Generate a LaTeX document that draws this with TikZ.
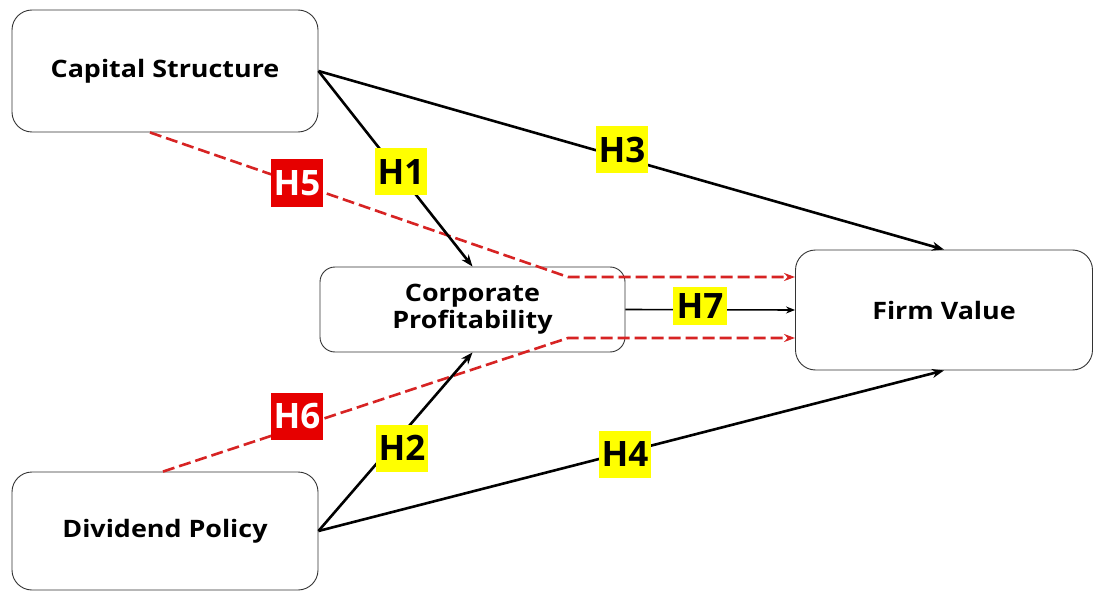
\documentclass[tikz,border=0pt]{standalone}
\usepackage{fontspec}
\setmainfont{Open Sans}
\newfontfamily\wideopen[FakeStretch=1.12]{Open Sans}
\usetikzlibrary{arrows.meta}
\definecolor{hyel}{RGB}{255,255,0}
\definecolor{hred}{RGB}{230,0,0}
\definecolor{dred}{RGB}{215,35,35}
\begin{document}
\begin{tikzpicture}[x=1pt,y=-1pt,
  box/.style={draw=black!80,line width=0.9pt,rounded corners=20pt,fill=white,align=center,
    font=\wideopen\fontsize{24}{27}\selectfont\bfseries,inner sep=0pt},
  blk/.style={line width=2.6pt,-{Stealth[length=12pt,width=9pt]}},
  thn/.style={line width=1.6pt,-{Stealth[length=9pt,width=7pt]}},
  rd/.style={dred,line width=2.6pt,dash pattern=on 12pt off 5pt,-{Stealth[length=11pt,width=8pt]}},
  hy/.style={fill=hyel,font=\fontsize{35}{35}\selectfont\bfseries,inner sep=0pt,
    minimum width=52pt,minimum height=47pt,text=black},
  hr/.style={fill=hred,font=\fontsize{35}{35}\selectfont\bfseries,inner sep=0pt,
    minimum width=52pt,minimum height=47pt,text=white}]
\useasboundingbox (0,0) rectangle (1093,591);
\fill[white] (0,0) rectangle (1093,591);
\node[box,minimum width=306pt,minimum height=122pt] (cap) at (165,71) {Capital Structure};
\node[box,minimum width=306pt,minimum height=118pt] (div) at (165,531) {Dividend Policy};
\node[box,minimum width=305pt,minimum height=85pt,rounded corners=15pt] (prof) at (472.5,309.5) {Corporate\\Profitability};
\node[box,minimum width=297pt,minimum height=120pt] (firm) at (944,310) {Firm Value};
\coordinate (b5) at (568,277);
\coordinate (b6) at (568,338);
\draw[rd] ([xshift=-15pt]cap.south) -- (b5) -- (b5 -| firm.west);
\draw[rd] ([xshift=-2pt]div.north) -- (b6) -- (b6 -| firm.west);
\draw[blk] (cap.east) -- (prof.north);
\draw[blk] (cap.east) -- (firm.north);
\draw[blk] (div.east) -- (prof.south);
\draw[blk] (div.east) -- (firm.south);
\draw[thn] (prof.east) -- (firm.west);
\node[hy] (h1) at (401,172) {H1};
\node[hy] (h3) at (622,150) {H3};
\node[hy] (h2) at (402,448) {H2};
\node[hy] (h4) at (625,454) {H4};
\node[hy,minimum height=38pt,minimum width=54pt] (h7) at (700,306) {H7};
\node[hr] (h5) at (297,183) {H5};
\node[hr] (h6) at (297,416) {H6};
\end{tikzpicture}
\end{document}
